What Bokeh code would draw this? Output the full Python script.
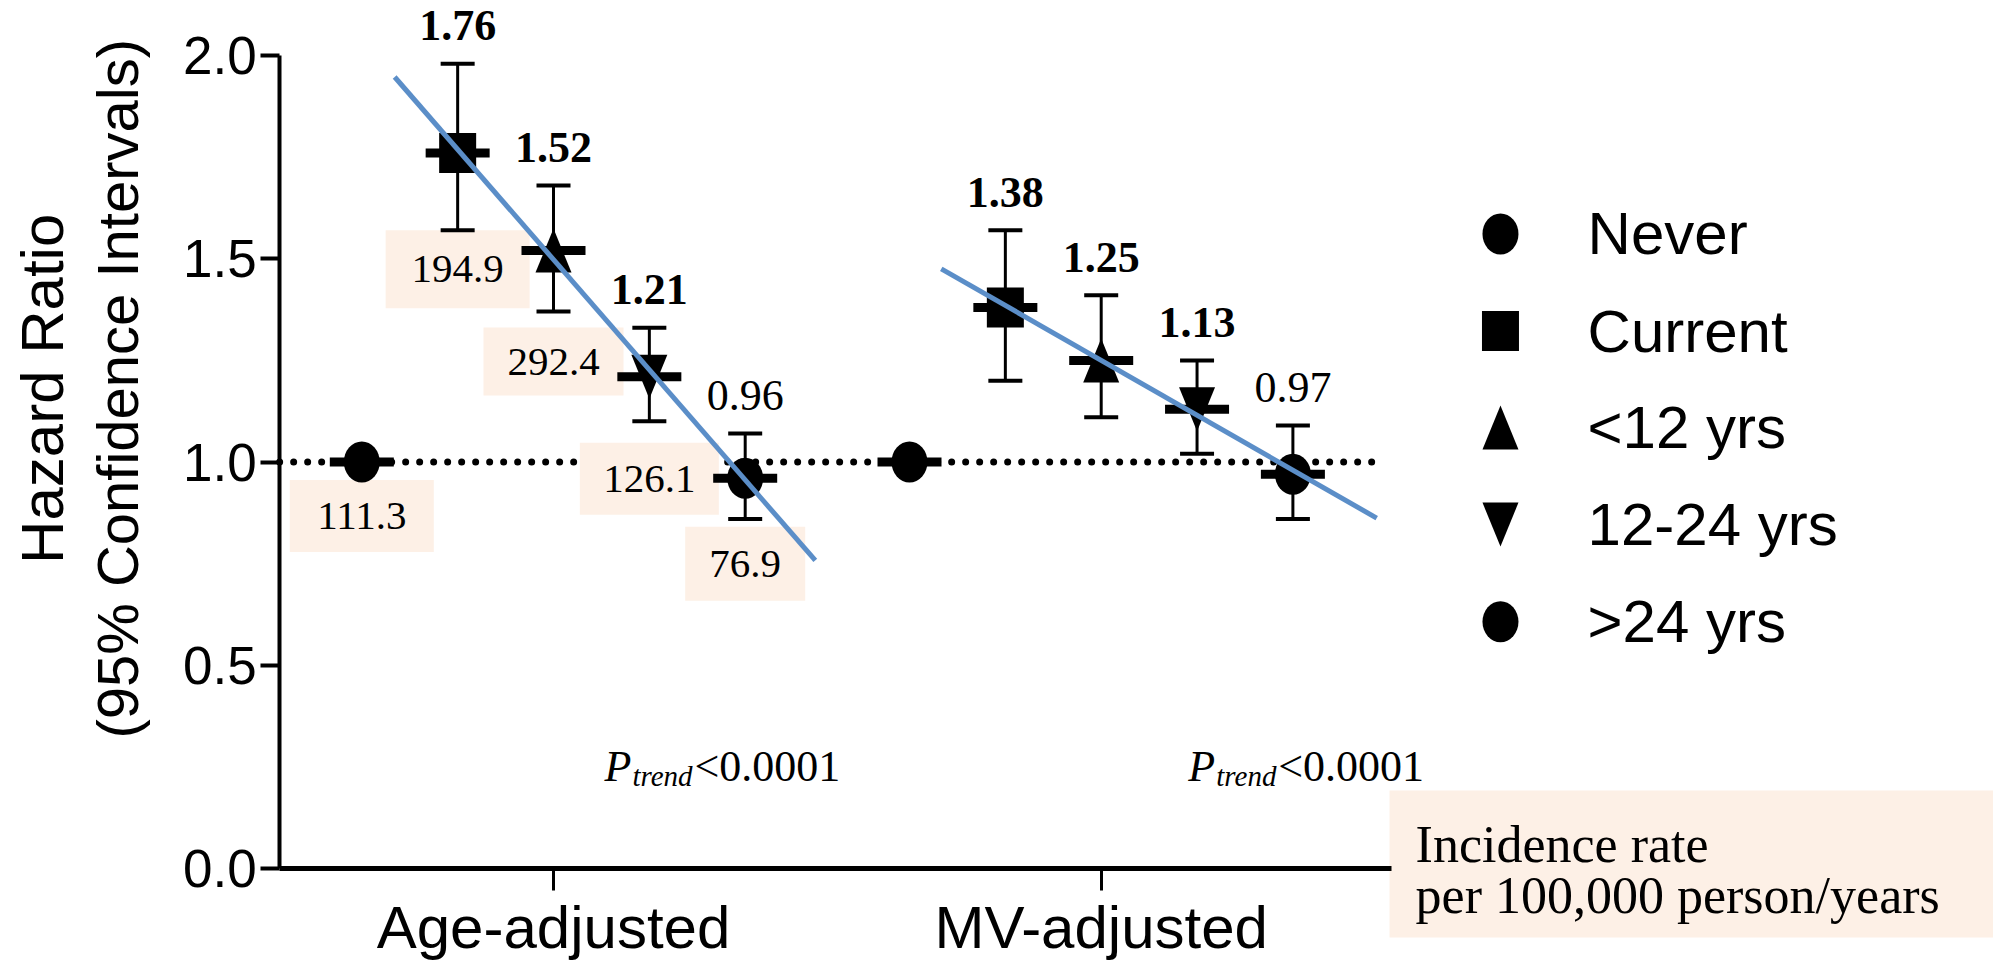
import numpy as np
from bokeh.plotting import figure
from bokeh.models import LinearAxis, FixedTicker, PrintfTickFormatter
from bokeh.core.properties import value
from bokeh.embed import file_html
from bokeh.resources import INLINE

# ---------------- data ----------------
groups = ["Age-adjusted", "MV-adjusted"]
statuses = ["Never", "Current", "<12 yrs", "12-24 yrs", ">24 yrs"]
hr_age = [1.00, 1.76, 1.52, 1.21, 0.96]
lo_age = [np.nan, 1.57, 1.37, 1.10, 0.86]
hi_age = [np.nan, 1.98, 1.68, 1.33, 1.07]
hr_mv = [1.00, 1.38, 1.25, 1.13, 0.97]
lo_mv = [np.nan, 1.20, 1.11, 1.02, 0.86]
hi_mv = [np.nan, 1.57, 1.41, 1.25, 1.09]
incidence = ["111.3", "194.9", "292.4", "126.1", "76.9"]
p_trend = ["<0.0001", "<0.0001"]
y_ticks = [0.0, 0.5, 1.0, 1.5, 2.0]
ref_hr = 1.0

# ---------------- layout (positions / sizes / styles) ----------------
group_x = [1.0, 2.0]
offsets = [-0.35, -0.175, 0.0, 0.175, 0.35]
marker_kind = ["ellipse", "square", "triangle", "inverted_triangle", "ellipse"]
PX_X = 547.7  # screen px per x unit
PX_Y = 406.5  # screen px per y unit
W, H = 1993, 967
x0_px, y0_px = 553.0, 868.0
x_range = (1 - x0_px / PX_X, 1 + (W - x0_px) / PX_X)
y_range = (-(H - y0_px) / PX_Y, (y0_px) / PX_Y)

inc_box_y = [0.867, 1.474, 1.247, 0.959, 0.750]
inc_box_w = [144, 144, 140, 139, 120]
inc_box_h = [72, 78, 68, 72, 74]
trend_span = [(-0.29, 0.478), (-0.292, 0.503)]
ptrend_pos = [(1.093, 0.25), (2.159, 0.25)]
legend_x_marker = 2.729
legend_x_text = 2.888
legend_y = [1.561, 1.322, 1.085, 0.846, 0.607]

SERIF = "Liberation Serif"
SANS = "Liberation Sans"
BLUE = "#5b8ec8"
PEACH = "#fdf0e6"

p = figure(width=W, height=H, x_range=x_range, y_range=y_range,
           output_backend="svg", toolbar_location=None,
           x_axis_location=None, y_axis_location=None, min_border=0)
p.outline_line_color = None
for g in p.grid:
    g.visible = False

# axes
yaxis = LinearAxis(fixed_location=0.5, bounds=(0, 2),
                   ticker=FixedTicker(ticks=y_ticks),
                   formatter=PrintfTickFormatter(format="%.1f"))
yaxis.axis_line_width = 4
yaxis.axis_line_color = "black"
yaxis.major_tick_line_width = 4
yaxis.major_tick_line_color = "black"
yaxis.major_tick_out = 19
yaxis.major_tick_in = 0
yaxis.minor_tick_out = 0
yaxis.minor_tick_in = 0
yaxis.major_label_text_font = SANS
yaxis.major_label_text_font_size = "53px"
yaxis.major_label_text_color = "black"
yaxis.major_label_standoff = 4
p.add_layout(yaxis, "left")

xaxis = LinearAxis(fixed_location=0, bounds=(0.5, 2.53),
                   ticker=FixedTicker(ticks=group_x))
xaxis.major_label_overrides = {1: groups[0], 2: groups[1]}
xaxis.axis_line_width = 5
xaxis.axis_line_color = "black"
xaxis.major_tick_line_width = 3
xaxis.major_tick_line_color = "black"
xaxis.major_tick_out = 22
xaxis.major_tick_in = 0
xaxis.minor_tick_out = 0
xaxis.minor_tick_in = 0
xaxis.major_label_text_font = SANS
xaxis.major_label_text_font_size = "60px"
xaxis.major_label_text_color = "black"
xaxis.major_label_standoff = 3
p.add_layout(xaxis, "below")

# reference dotted line
p.line(x=[0.5, 2.5], y=[ref_hr, ref_hr], line_color="black", line_width=7,
       line_dash="0 14", line_cap="round")

# build point table
xs, hrs, los, his, kinds, inc, boxy, boxw, boxh = [], [], [], [], [], [], [], [], []
for gi, (hr, lo, hi) in enumerate([(hr_age, lo_age, hi_age), (hr_mv, lo_mv, hi_mv)]):
    for i in range(5):
        xs.append(group_x[gi] + offsets[i])
        hrs.append(hr[i]); los.append(lo[i]); his.append(hi[i]); kinds.append(marker_kind[i])
        if gi == 0:
            inc.append(incidence[i]); boxy.append(inc_box_y[i]); boxw.append(inc_box_w[i]); boxh.append(inc_box_h[i])
xs = np.array(xs); hrs = np.array(hrs); los = np.array(los); his = np.array(his)
has_ci = ~np.isnan(los)

# incidence boxes (behind everything else)
xa = xs[:5]
p.rect(x=xa, y=boxy, width=boxw, height=boxh, width_units="screen", height_units="screen",
       fill_color=PEACH, line_color=None)
p.text(x=xa, y=boxy, text=inc, text_align="center", text_baseline="middle",
       text_font=value(SERIF), text_font_size=value("41px"), text_color="black")

# error bars
p.segment(x0=xs[has_ci], y0=los[has_ci], x1=xs[has_ci], y1=his[has_ci], line_color="black", line_width=3)
capx = np.concatenate([xs[has_ci], xs[has_ci]])
capy = np.concatenate([los[has_ci], his[has_ci]])
p.rect(x=capx, y=capy, width=34, height=4, width_units="screen", height_units="screen",
       fill_color="black", line_color=None)

# mean bars
p.rect(x=xs, y=hrs, width=64, height=9, width_units="screen", height_units="screen",
       fill_color="black", line_color=None)

# markers
MW, MH = 36, 42
def draw_marker(kind, x, y):
    x = np.asarray(x, dtype=float); y = np.asarray(y, dtype=float)
    if len(x) == 0:
        return
    if kind == "ellipse":
        p.ellipse(x=x, y=y, width=MW, height=MH - 1, width_units="screen", height_units="screen",
                  fill_color="black", line_color=None)
    elif kind == "square":
        p.rect(x=x, y=y, width=MW + 1, height=MH - 2, width_units="screen", height_units="screen",
               fill_color="black", line_color=None)
    else:
        hw = MW / 2 / PX_X
        hh = (MH + 2) / 2 / PX_Y
        s = 1 if kind == "triangle" else -1
        pxs = [[xi - hw, xi + hw, xi] for xi in x]
        pys = [[yi - s * hh, yi - s * hh, yi + s * hh] for yi in y]
        p.patches(xs=pxs, ys=pys, fill_color="black", line_color=None)

kinds = np.array(kinds)
for k in ["ellipse", "square", "triangle", "inverted_triangle"]:
    m = kinds == k
    draw_marker(k, xs[m], hrs[m])

# trend lines (least-squares fit through the ever-smoker categories)
for gi, hr in enumerate([hr_age, hr_mv]):
    xo = np.array(offsets[1:]); yv = np.array(hr[1:])
    slope, intercept = np.polyfit(xo, yv, 1)
    a, b = trend_span[gi]
    p.line(x=[group_x[gi] + a, group_x[gi] + b], y=[intercept + slope * a, intercept + slope * b],
           line_color=BLUE, line_width=5)

# HR value labels above upper CI
lab_x = xs[has_ci]; lab_y = his[has_ci]; lab_hr = hrs[has_ci]; lab_lo = los[has_ci]
bold = lab_lo > 1
for mask, style in [(bold, "bold"), (~bold, "normal")]:
    p.text(x=lab_x[mask], y=lab_y[mask], text=[f"{v:.2f}" for v in lab_hr[mask]],
           text_align="center", text_baseline="alphabetic", y_offset=-38,
           text_font=value(SERIF), text_font_style=style, text_font_size=value("44px"), text_color="black")

# P trend
for (px_, py_), ptxt in zip(ptrend_pos, p_trend):
    p.text(x=[px_], y=[py_], text=["P"], text_font=value(SERIF), text_font_style="italic",
           text_font_size=value("44px"), text_baseline="alphabetic", text_align="left")
    p.text(x=[px_], y=[py_], text=["trend"], text_font=value(SERIF), text_font_style="italic",
           text_font_size=value("29px"), text_baseline="alphabetic", text_align="left",
           x_offset=28, y_offset=9)
    p.text(x=[px_], y=[py_], text=[ptxt], text_font=value(SERIF),
           text_font_size=value("44px"), text_baseline="alphabetic", text_align="left", x_offset=90)

# incidence legend box
p.quad(left=[2.5264], right=[x_range[1]], top=[0.192], bottom=[-0.170], fill_color=PEACH, line_color=None)
p.text(x=[2.574, 2.574], y=[0.059, -0.067], text=["Incidence rate", "per 100,000 person/years"],
       text_font=value(SERIF), text_font_size=value("52px"), text_baseline="alphabetic", text_align="left")

# y axis title
p.text(x=[0.067], y=[1.18], text=["Hazard Ratio"], angle=np.pi / 2, text_align="center",
       text_baseline="middle", text_font=value(SANS), text_font_size=value("60px"))
p.text(x=[0.204], y=[1.18], text=["(95% Confidence Intervals)"], angle=np.pi / 2, text_align="center",
       text_baseline="middle", text_font=value(SANS), text_font_size=value("58px"))

# legend (drawn manually)
for i, k in enumerate(marker_kind):
    draw_marker(k, [legend_x_marker], [legend_y[i]])
p.text(x=[legend_x_text] * 5, y=legend_y, text=statuses, text_align="left", text_baseline="middle",
       text_font=value(SANS), text_font_size=value("60px"))

open("out.html", "w").write(file_html(p, INLINE))
